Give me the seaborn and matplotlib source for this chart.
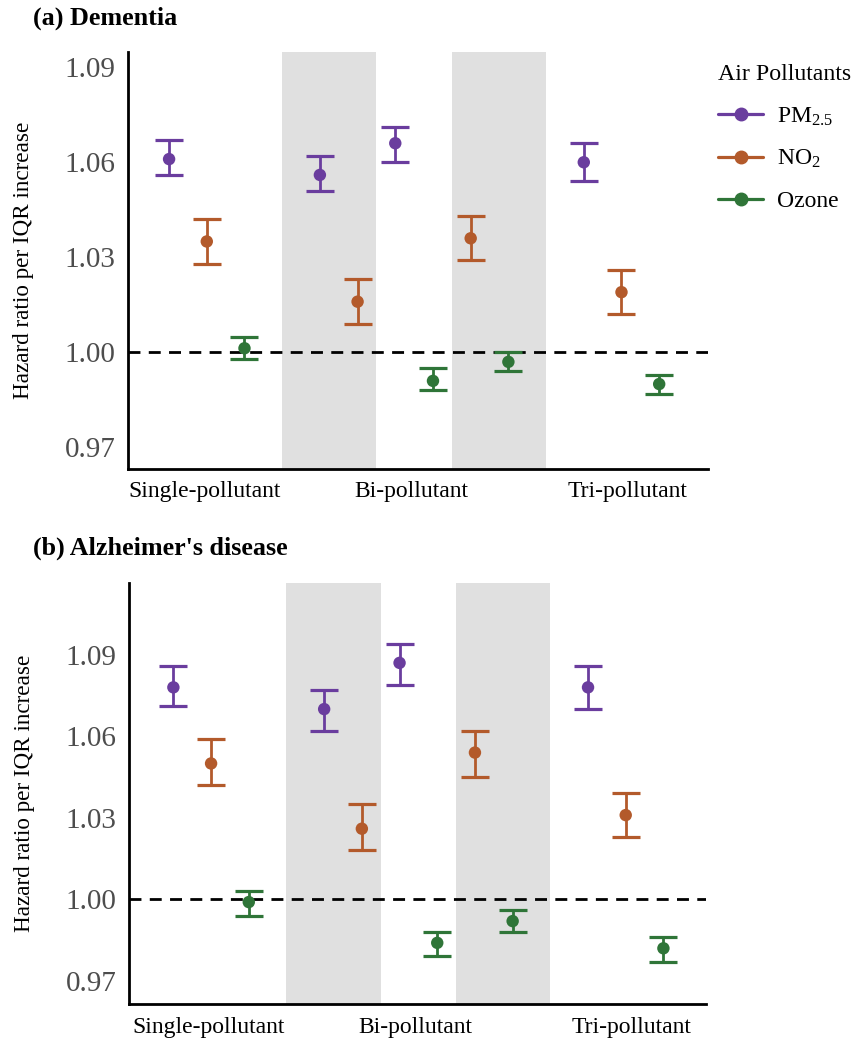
import matplotlib
matplotlib.use("Agg")
import numpy as np
import pandas as pd
import seaborn as sns
import matplotlib.pyplot as plt
from matplotlib.lines import Line2D

# position of each estimate along the x axis (single: 0-2, bi: 4-9, tri: 11-13)
x_pos = [0, 1, 2, 4, 5, 6, 7, 8, 9, 11, 12, 13]
pollutant = ["PM2.5", "NO2", "Ozone",
             "PM2.5", "NO2", "PM2.5", "Ozone", "NO2", "Ozone",
             "PM2.5", "NO2", "Ozone"]

# (a) Dementia
dem_hr = [1.061, 1.035, 1.0013, 1.056, 1.016, 1.066, 0.991, 1.036, 0.997, 1.060, 1.019, 0.990]
dem_lo = [1.056, 1.028, 0.998, 1.051, 1.009, 1.060, 0.988, 1.029, 0.994, 1.054, 1.012, 0.987]
dem_hi = [1.067, 1.042, 1.005, 1.062, 1.023, 1.071, 0.995, 1.043, 1.000, 1.066, 1.026, 0.993]

# (b) Alzheimer's disease
ad_hr = [1.078, 1.050, 0.999, 1.070, 1.026, 1.087, 0.984, 1.054, 0.992, 1.078, 1.031, 0.982]
ad_lo = [1.071, 1.042, 0.994, 1.062, 1.018, 1.079, 0.979, 1.045, 0.988, 1.070, 1.023, 0.977]
ad_hi = [1.086, 1.059, 1.003, 1.077, 1.035, 1.094, 0.988, 1.062, 0.996, 1.086, 1.039, 0.986]

group_labels = ["Single-pollutant", "Bi-pollutant", "Tri-pollutant"]
group_label_pos = [0.93, 6.42, 12.15]
shade_spans = [(3, 5.5), (7.5, 10)]
yticks = [0.97, 1.00, 1.03, 1.06, 1.09]

colors = {"PM2.5": "#6A3D9E", "NO2": "#B35A2B", "Ozone": "#2F7538"}
legend_labels = {"PM2.5": r"PM$_{2.5}$", "NO2": r"NO$_2$", "Ozone": "Ozone"}

sns.set_style("white")
plt.rcParams["font.family"] = ["Liberation Serif", "DejaVu Serif"]
plt.rcParams["mathtext.fontset"] = "custom"
plt.rcParams["mathtext.rm"] = "Liberation Serif"
plt.rcParams["mathtext.it"] = "Liberation Serif:italic"
plt.rcParams["text.color"] = "black"
plt.rcParams["axes.labelcolor"] = "black"
plt.rcParams["xtick.color"] = "black"

fig = plt.figure(figsize=(8.59, 10.44), dpi=100)
ax_a = fig.add_axes([0.149, 0.5508, 0.675, 0.3994])
ax_b = fig.add_axes([0.1505, 0.0383, 0.6714, 0.4033])


def draw_panel(ax, hr, lo, hi, ylim, xlim):
    df = pd.DataFrame({"x": x_pos, "hr": hr, "lo": lo, "hi": hi, "pollutant": pollutant})

    for a, b in shade_spans:
        ax.axvspan(a, b, color="#E0E0E0", lw=0, zorder=0)
    ax.axhline(1.0, color="black", lw=2, ls=(0, (4.3, 3.0)), zorder=1)

    for p, sub in df.groupby("pollutant"):
        ax.errorbar(sub["x"], sub["hr"],
                    yerr=[sub["hr"] - sub["lo"], sub["hi"] - sub["hr"]],
                    fmt="none", ecolor=colors[p], elinewidth=2.0,
                    capsize=9.8, capthick=2.3, zorder=2)
    sns.scatterplot(data=df, x="x", y="hr", hue="pollutant", palette=colors,
                    s=80, edgecolor="none", legend=False, ax=ax, zorder=3)

    ax.set_xlim(*xlim)
    ax.set_ylim(*ylim)
    ax.set_yticks(yticks)
    ax.set_yticklabels([f"{t:.2f}" for t in yticks], fontsize=21, color="#4D4D4D")
    ax.set_xticks([3, 10])
    ax.set_xticklabels([])
    ax.set_xticks(group_label_pos, minor=True)
    ax.set_xticklabels(group_labels, minor=True, fontsize=17, color="black")
    ax.tick_params(axis="x", which="minor", length=0, pad=9)
    ax.tick_params(axis="both", which="major", length=5, width=1.8, color="#333333")
    ax.tick_params(axis="y", pad=4)
    ax.set_xlabel("")
    ax.set_ylabel("Hazard ratio per IQR increase", fontsize=16.7, labelpad=22)
    for side in ["top", "right"]:
        ax.spines[side].set_visible(False)
    for side in ["left", "bottom"]:
        ax.spines[side].set_linewidth(2.0)
        ax.spines[side].set_color("black")
    ax.grid(False)


draw_panel(ax_a, dem_hr, dem_lo, dem_hi, (0.9632, 1.0948), (-1.09, 14.29))
draw_panel(ax_b, ad_hr, ad_lo, ad_hi, (0.9615, 1.1164), (-1.17, 14.13))

fig.text(33 / 859, 1 - 18 / 1044, "(a) Dementia", fontsize=18.8, fontweight="bold", va="center")
fig.text(33 / 859, 1 - 548 / 1044, "(b) Alzheimer's disease", fontsize=18.8, fontweight="bold", va="center")

handles = [Line2D([0], [0], color=colors[p], lw=2.3, marker="o", markersize=9)
           for p in ["PM2.5", "NO2", "Ozone"]]
fig.legend(handles, [legend_labels[p] for p in ["PM2.5", "NO2", "Ozone"]],
           title="Air Pollutants", loc="upper left",
           bbox_to_anchor=(697 / 859, 1 - 43 / 1044), frameon=False,
           fontsize=17, title_fontsize=17.2, handlelength=1.9,
           handletextpad=0.6, labelspacing=0.86, alignment="left")

fig.savefig("out.png", dpi=100)
